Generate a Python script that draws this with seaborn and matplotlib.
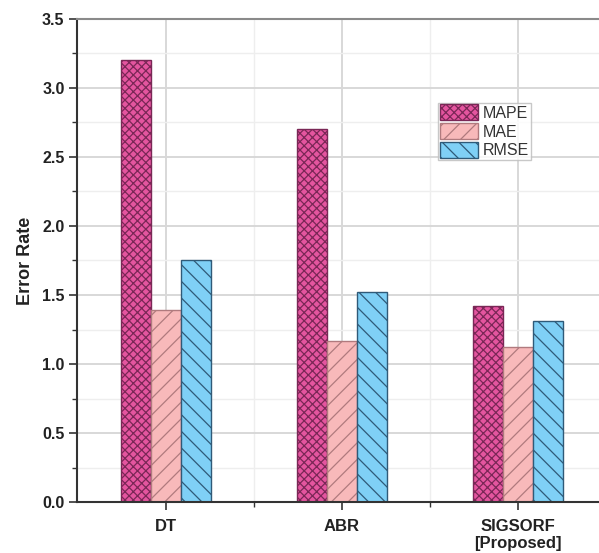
import matplotlib
matplotlib.use('Agg')
import matplotlib.pyplot as plt
import numpy as np
import pandas as pd
import seaborn as sns

models = ['DT', 'ABR', 'SIGSORF\n[Proposed]']
metrics = ['MAPE', 'MAE', 'RMSE']
mape = [3.20, 2.70, 1.42]
mae = [1.39, 1.17, 1.12]
rmse = [1.75, 1.52, 1.31]

face_colors = ['#e4559f', '#f8b9ba', '#7fd0f6']
hatch_colors = ['#7a2756', '#b07a7e', '#2f5a78']
hatches = ['xxxx', '//', '\\\\']

df = pd.DataFrame({
    'Model': models * 3,
    'Metric': [m for m in metrics for _ in models],
    'Value': mape + mae + rmse,
})

sns.set_style('white')
plt.rcParams['font.family'] = ['Liberation Sans', 'DejaVu Sans']
plt.rcParams['hatch.linewidth'] = 0.9

fig = plt.figure(figsize=(5.99, 5.53), dpi=100)
ax = fig.add_axes([0.1285, 0.092, 0.8715, 0.874])

sns.barplot(data=df, x='Model', y='Value', hue='Metric', order=models,
            hue_order=metrics, palette=face_colors, width=0.51,
            saturation=1, ax=ax, legend=False)

for cont, fc, hc, h in zip(ax.containers, face_colors, hatch_colors, hatches):
    for bar in cont:
        bar.set_facecolor(fc)
        bar.set_edgecolor(hc)
        bar.set_hatch(h)
        bar.set_linewidth(1.0)

ax.set_xlim(-0.506, 2.46)
ax.set_ylim(0, 3.5)
ax.set_yticks(np.arange(0, 3.51, 0.5))
ax.set_yticks(np.arange(0.25, 3.5, 0.5), minor=True)
ax.set_xticks([0.5, 1.5], minor=True)

ax.grid(which='major', color='#d8d8d8', linewidth=1.4)
ax.grid(which='minor', color='#eeeeee', linewidth=1.0)
ax.set_axisbelow(True)

for s in ['left', 'bottom']:
    ax.spines[s].set_color('#333333')
    ax.spines[s].set_linewidth(1.5)
ax.spines['top'].set_color('#8a8a8a')
ax.spines['top'].set_linewidth(1.5)
ax.spines['right'].set_visible(False)

ax.tick_params(axis='both', which='major', direction='out', length=6,
               width=1.2, color='#333333', left=True, bottom=True)
ax.tick_params(axis='both', which='minor', direction='out', length=3.5,
               width=1.0, color='#333333', left=True, bottom=True)
ax.tick_params(axis='y', labelsize=11.5, pad=3)
ax.tick_params(axis='x', labelsize=12, pad=6)
for lab in ax.get_yticklabels() + ax.get_xticklabels():
    lab.set_fontweight('bold')
    lab.set_color('#222222')

ax.set_xlabel('')
ax.set_ylabel('Error Rate', fontsize=13, fontweight='bold', color='#222222')
ax.yaxis.set_label_coords(-0.083, 0.5)

leg = ax.legend(ax.containers, metrics, loc='upper left',
                bbox_to_anchor=(0.6916, 0.826), fontsize=11.5,
                frameon=True, fancybox=False, edgecolor='#bbbbbb',
                handlelength=2.4, handleheight=1.15, handletextpad=0.3,
                labelspacing=0.15, borderpad=0.1, borderaxespad=0)
leg.get_frame().set_linewidth(1.0)
for t in leg.get_texts():
    t.set_color('#333333')

fig.savefig('out.png', dpi=100)
